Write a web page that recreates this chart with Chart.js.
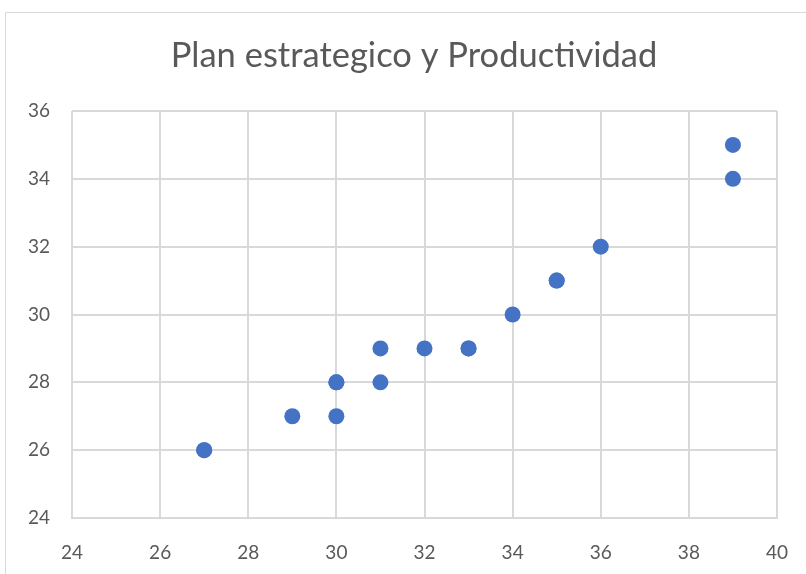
<!DOCTYPE html>
<html>
<head>
<meta charset="utf-8">
<script src="https://cdn.jsdelivr.net/npm/chart.js@4/dist/chart.umd.min.js"></script>
<style>
  html, body { margin: 0; padding: 0; background: #ffffff; }
  canvas { display: block; }
</style>
</head>
<body>
<canvas id="chart" width="806" height="574"></canvas>
<script>
// Plan estratégico (x) vs. Productividad (y)
const planValues = [27, 27, 29, 30, 30, 30, 31, 31, 32, 33, 33, 34, 35, 35, 36, 39, 39];
const productividadValues = [26, 26, 27, 27, 28, 28, 28, 29, 29, 29, 29, 30, 31, 31, 32, 34, 35];
const chartTitle = 'Plan estrategico y Productividad';
const xTicks = { min: 24, max: 40, step: 2 };
const yTicks = { min: 24, max: 36, step: 2 };

const points = planValues.map((x, i) => ({ x: x, y: productividadValues[i] }));

const FONT = 'Lato, "Open Sans", sans-serif';
const TEXT = '#595959';
const GRID = '#d9d9d9';

// Light frame around the chart object, plus the centred title above the plot
const framePlugin = {
  id: 'frame',
  beforeDraw(chart) {
    const ctx = chart.ctx;
    ctx.save();
    ctx.strokeStyle = GRID;
    ctx.lineWidth = 1;
    ctx.beginPath();
    ctx.moveTo(5.5, chart.height);
    ctx.lineTo(5.5, 12.5);
    ctx.lineTo(chart.width, 12.5);
    ctx.stroke();

    ctx.fillStyle = TEXT;
    ctx.font = '34.5px ' + FONT;
    ctx.textAlign = 'center';
    ctx.textBaseline = 'alphabetic';
    ctx.fillText(chartTitle, 414, 67);
    ctx.restore();
  }
};

new Chart(document.getElementById('chart'), {
  type: 'scatter',
  data: {
    datasets: [{
      data: points,
      backgroundColor: '#4472C4',
      borderColor: '#4472C4',
      pointRadius: 8,
      pointHoverRadius: 8,
      borderWidth: 0
    }]
  },
  options: {
    responsive: false,
    animation: false,
    layout: { padding: { left: 0, right: 29, top: 111, bottom: 0 } },
    plugins: {
      legend: { display: false },
      tooltip: { enabled: false },
      title: { display: false }
    },
    scales: {
      x: {
        type: 'linear',
        min: xTicks.min,
        max: xTicks.max,
        grid: { color: GRID, lineWidth: 2, drawTicks: false },
        border: { display: true, color: GRID, width: 2 },
        ticks: {
          stepSize: xTicks.step,
          color: TEXT,
          font: { family: FONT, size: 19 },
          padding: 23
        },
        afterFit(scale) {
          scale.height = 56;
          scale.paddingLeft = 0;
          scale.paddingRight = 0;
        }
      },
      y: {
        type: 'linear',
        min: yTicks.min,
        max: yTicks.max,
        grid: { color: GRID, lineWidth: 2, drawTicks: false },
        border: { display: false },
        ticks: {
          stepSize: yTicks.step,
          color: TEXT,
          font: { family: FONT, size: 19 },
          padding: 22
        },
        afterFit(scale) {
          scale.width = 72;
          scale.paddingTop = 0;
          scale.paddingBottom = 0;
        }
      }
    }
  },
  plugins: [framePlugin]
});
</script>
</body>
</html>
